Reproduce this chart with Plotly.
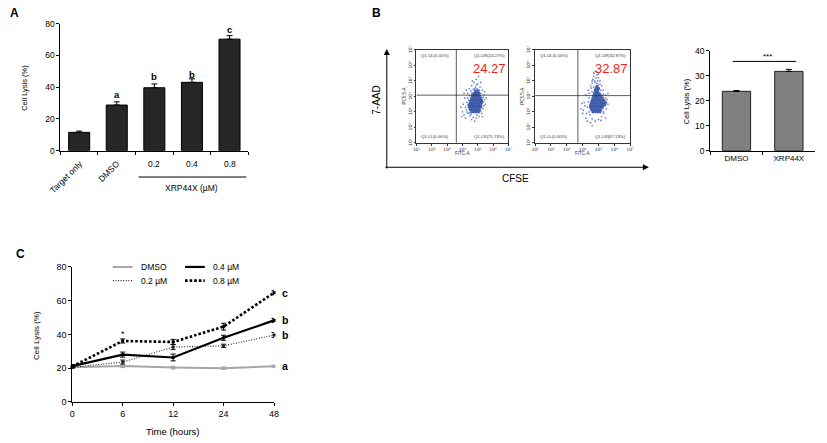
import plotly.graph_objects as go

W, H = 827, 443
FONT = "Liberation Sans, Arial, sans-serif"


def px(x):
    return x / W


def py(y):
    return 1 - y / H


# ---------------- data ----------------
# Panel A
a_cats = ["Target only", "DMSO", "0.2", "0.4", "0.8"]
a_vals = [11.5, 28.7, 39.6, 43.0, 70.2]
a_errs = [0.8, 2.0, 2.4, 2.2, 2.2]
a_letters = ["", "a", "b", "b", "c"]
a_letter_y = [0, 35.5, 46.5, 48.0, 76.5]

# Panel B bar
b_cats = ["DMSO", "XRP44X"]
b_vals = [23.8, 31.8]
b_errs = [0.3, 0.8]

# Panel B flow plots (log10 coordinates)
flow_quads_1 = ["Q1-UL(0.00%)", "Q1-UR(24.27%)", "Q1-LL(0.00%)", "Q1-LR(75.73%)"]
flow_quads_2 = ["Q1-UL(0.00%)", "Q1-UR(32.87%)", "Q1-LL(0.00%)", "Q1-LR(67.13%)"]
flow_ur = ["24.27", "32.87"]
flow_tick_text = ["10\u00b9", "10\u00b2", "10\u00b3", "10\u2074", "10\u2075", "10\u2076",
                  "10\u2077"]
gate_x_log = [3.6, 3.7]
gate_y_log = [4.08, 4.05]

core1_pts = [
    (4.6, 3.0), (4.75, 3.0), (4.9, 3.0), (5.05, 3.0),
    (4.5, 3.15), (4.65, 3.15), (4.8, 3.15), (4.95, 3.15), (5.1, 3.15),
    (4.45, 3.3), (4.6, 3.3), (4.75, 3.3), (4.9, 3.3), (5.05, 3.3), (5.2, 3.3),
    (4.45, 3.45), (4.6, 3.45), (4.75, 3.45), (4.9, 3.45), (5.05, 3.45), (5.2, 3.45),
    (4.5, 3.6), (4.65, 3.6), (4.8, 3.6), (4.95, 3.6), (5.1, 3.6), (5.25, 3.6),
    (4.55, 3.75), (4.7, 3.75), (4.85, 3.75), (5.0, 3.75), (5.15, 3.75), (5.25, 3.75),
    (4.6, 3.9), (4.75, 3.9), (4.9, 3.9), (5.05, 3.9), (5.2, 3.9),
    (4.65, 4.05), (4.8, 4.05), (4.95, 4.05), (5.1, 4.05),
    (4.75, 4.2), (4.9, 4.2), (5.05, 4.2),
    (4.85, 4.35), (5.0, 4.35),
]
sparse1_pts = [
    (4.0, 3.0), (4.1, 2.8), (4.2, 3.3), (4.3, 3.6), (4.15, 3.9), (4.35, 4.2), (4.45, 4.5),
    (4.6, 4.7), (4.75, 4.9), (4.9, 5.1), (5.05, 5.3), (5.0, 4.8), (5.15, 4.6), (5.3, 4.4),
    (5.4, 4.1), (5.45, 3.8), (5.5, 3.5), (5.35, 3.2), (5.25, 2.9), (5.1, 2.7), (4.9, 2.6),
    (4.7, 2.65), (4.5, 2.75), (4.35, 2.9), (4.25, 3.15), (4.35, 3.45), (4.35, 3.9),
    (4.55, 4.35), (4.7, 4.45), (4.85, 4.6), (4.95, 4.5), (5.1, 4.4), (5.2, 4.2),
    (5.35, 3.95), (5.38, 3.65), (4.3, 3.0), (4.45, 2.95), (4.55, 2.85), (4.95, 2.8),
    (5.2, 3.05), (5.4, 3.4), (4.05, 3.5), (3.95, 2.7), (4.2, 2.6), (4.6, 4.2),
    (4.8, 4.5), (5.1, 4.25), (4.9, 4.75), (4.65, 5.0), (5.2, 4.9), (4.4, 3.75),
    (5.45, 4.3), (4.25, 4.4), (4.8, 2.4), (5.55, 3.9), (3.9, 3.3), (4.1, 4.2),
    (4.45, 4.05), (5.3, 2.7), (4.6, 2.5),
]
core2_pts = [
    (4.65, 3.0), (4.8, 3.0), (4.95, 3.0), (5.1, 3.0),
    (4.55, 3.15), (4.7, 3.15), (4.85, 3.15), (5.0, 3.15), (5.15, 3.15),
    (4.5, 3.3), (4.65, 3.3), (4.8, 3.3), (4.95, 3.3), (5.1, 3.3), (5.25, 3.3),
    (4.5, 3.45), (4.65, 3.45), (4.8, 3.45), (4.95, 3.45), (5.1, 3.45), (5.25, 3.45),
    (5.4, 3.45),
    (4.55, 3.6), (4.7, 3.6), (4.85, 3.6), (5.0, 3.6), (5.15, 3.6), (5.3, 3.6), (5.45, 3.6),
    (4.6, 3.75), (4.75, 3.75), (4.9, 3.75), (5.05, 3.75), (5.2, 3.75), (5.35, 3.75),
    (4.65, 3.9), (4.8, 3.9), (4.95, 3.9), (5.1, 3.9), (5.25, 3.9),
    (4.7, 4.05), (4.85, 4.05), (5.0, 4.05), (5.15, 4.05),
    (4.75, 4.2), (4.9, 4.2), (5.05, 4.2),
    (4.8, 4.35), (4.95, 4.35), (4.85, 4.5), (5.0, 4.5), (4.9, 4.65),
]
sparse2_pts = [
    (3.9, 3.2), (4.0, 2.9), (4.1, 3.6), (4.2, 2.6), (4.3, 2.4), (4.4, 3.0), (4.2, 4.1),
    (4.35, 4.4), (4.5, 4.7), (4.6, 5.0), (4.7, 5.3), (4.8, 5.6), (4.9, 5.4), (5.0, 5.2),
    (5.1, 5.0), (5.2, 4.7), (5.3, 4.4), (5.45, 4.1), (5.55, 3.8), (5.6, 3.5), (5.5, 3.2),
    (5.35, 2.9), (5.2, 2.7), (5.0, 2.5), (4.8, 2.4), (4.6, 2.55), (4.45, 2.8), (4.3, 3.3),
    (4.4, 3.9), (4.6, 4.3), (4.7, 4.6), (4.8, 4.9), (4.9, 4.85), (5.0, 4.75), (4.75, 4.45),
    (5.05, 4.55), (4.95, 5.0), (4.65, 5.1), (4.55, 4.55), (5.15, 4.4), (5.3, 4.15),
    (5.45, 3.9), (4.35, 3.65), (4.15, 3.4), (4.05, 3.1), (4.5, 2.3), (4.6, 2.1),
    (5.15, 2.45), (5.45, 2.6), (4.25, 2.9), (3.95, 3.55), (4.7, 5.5), (4.85, 5.2),
    (5.1, 4.8), (4.4, 4.2), (4.6, 4.85), (5.3, 3.0), (5.6, 4.2), (4.75, 5.0), (5.0, 5.45),
]

# Panel C
c_times = ["0", "6", "12", "24", "48"]
c_names = ["DMSO", "0.2 \u00b5M", "0.4 \u00b5M", "0.8 \u00b5M"]
c_dmso = [20.5, 21.3, 20.3, 19.9, 21.1]
c_02 = [20.5, 23.6, 32.5, 33.2, 39.6]
c_04 = [21.2, 28.0, 26.3, 38.0, 48.3]
c_08 = [21.0, 36.1, 35.5, 44.6, 64.7]
c_dmso_err = [0.5, 1.0, 0.8, 0.7, 0.6]
c_02_err = [0.5, 1.2, 1.5, 1.0, 1.5]
c_04_err = [0.8, 1.5, 2.0, 1.5, 1.2]
c_08_err = [0.8, 1.2, 1.5, 2.0, 1.2]
c_letters = ["c", "b", "b", "a"]
c_letter_y = [64.7, 48.3, 39.6, 21.1]

# ---------------- figure ----------------
fig = go.Figure()

# Panel A bars
fig.add_trace(go.Bar(
    x=a_cats, y=a_vals, width=0.56,
    marker=dict(color="#262626", line=dict(color="black", width=1)),
    error_y=dict(type="data", symmetric=False, array=a_errs, arrayminus=[0] * len(a_errs),
                 color="black", thickness=1, width=3),
    xaxis="x", yaxis="y", showlegend=False))

# Panel B flow plots
flows = [
    (core1_pts, sparse1_pts, "x2", "y2"),
    (core2_pts, sparse2_pts, "x3", "y3"),
]
for i, (cp, sp, xa, ya) in enumerate(flows):
    fig.add_trace(go.Scatter(
        x=[10 ** p[0] for p in sp], y=[10 ** p[1] for p in sp], mode="markers",
        marker=dict(color="#4a6cc8", size=1.7, opacity=0.85),
        xaxis=xa, yaxis=ya, showlegend=False))
    fig.add_trace(go.Scatter(
        x=[10 ** p[0] for p in cp], y=[10 ** p[1] for p in cp], mode="markers",
        marker=dict(color="#22429e", size=3.2, opacity=0.8),
        xaxis=xa, yaxis=ya, showlegend=False))
    # quadrant gates
    fig.add_trace(go.Scatter(
        x=[10 ** gate_x_log[i]] * 2, y=[10, 1e7], mode="lines",
        line=dict(color="#333333", width=0.8), xaxis=xa, yaxis=ya, showlegend=False))
    fig.add_trace(go.Scatter(
        x=[10, 1e7], y=[10 ** gate_y_log[i]] * 2, mode="lines",
        line=dict(color="#333333", width=0.8), xaxis=xa, yaxis=ya, showlegend=False))

# Panel B bar chart
fig.add_trace(go.Bar(
    x=b_cats, y=b_vals, width=0.54,
    marker=dict(color="#808080", line=dict(color="#222222", width=1)),
    error_y=dict(type="data", symmetric=False, array=b_errs, arrayminus=[0, 0],
                 color="black", thickness=1, width=3),
    xaxis="x4", yaxis="y4", showlegend=False))

# Panel C lines
c_styles = [
    (c_dmso, c_dmso_err, "#a6a6a6", 2.0, "solid"),
    (c_02, c_02_err, "#222222", 1.1, "1px,1.6px"),
    (c_04, c_04_err, "#000000", 2.2, "solid"),
    (c_08, c_08_err, "#000000", 2.6, "2.6px,2px"),
]
for name, (vals, errs, col, wd, dash) in zip(c_names, c_styles):
    fig.add_trace(go.Scatter(
        x=c_times, y=vals, name=name, mode="lines+markers",
        line=dict(color=col, width=wd, dash=dash),
        marker=dict(color=col, size=3, symbol="square"),
        error_y=dict(type="data", array=errs, color=col, thickness=1, width=2.5),
        xaxis="x5", yaxis="y5", showlegend=False, cliponaxis=False))

# ---------------- axes ----------------
tickfont = dict(family=FONT, size=8.5, color="black")
tickfont_c = dict(family=FONT, size=9, color="black")
base_ax = dict(showline=True, linecolor="black", linewidth=1, ticks="outside",
               ticklen=3, tickcolor="black", tickwidth=1, showgrid=False,
               zeroline=False, tickfont=tickfont)

layout_axes = dict(
    xaxis=dict(base_ax, domain=[px(57), px(247)], anchor="y", type="category",
               tickson="boundaries", showticklabels=False, ticklen=3,
               range=[-0.5, 4.5]),
    yaxis=dict(base_ax, domain=[py(149), py(19)], anchor="x", range=[0, 80],
               tickvals=[0, 20, 40, 60, 80]),
    xaxis4=dict(base_ax, domain=[px(714), px(820)], anchor="y4", type="category",
                tickson="boundaries", range=[-0.5, 1.5],
                tickfont=dict(family=FONT, size=8, color="black")),
    yaxis4=dict(base_ax, domain=[py(149), py(47)], anchor="x4", range=[0, 40],
                tickvals=[0, 10, 20, 30, 40]),
    xaxis5=dict(base_ax, domain=[px(69), px(273)], anchor="y5", type="category",
                range=[0, 4], tickfont=tickfont_c),
    yaxis5=dict(base_ax, domain=[py(406), py(268)], anchor="x5", range=[0, 80],
                tickvals=[0, 20, 40, 60, 80], tickfont=tickfont_c),
)
flow_ax = dict(type="log", range=[1, 7], showline=True, mirror=True, linecolor="#333333",
               linewidth=0.8, ticks="outside", ticklen=2, tickcolor="#333333",
               tickwidth=0.6, showgrid=False, zeroline=False,
               tickvals=[10 ** k for k in range(1, 8)], ticktext=flow_tick_text,
               tickfont=dict(family="DejaVu Sans, " + FONT, size=4.5, color="#333333"))
layout_axes["xaxis2"] = dict(flow_ax, domain=[px(417), px(510)], anchor="y2")
layout_axes["yaxis2"] = dict(flow_ax, domain=[py(141), py(46)], anchor="x2", tickangle=-90)
layout_axes["xaxis3"] = dict(flow_ax, domain=[px(537), px(633)], anchor="y3")
layout_axes["yaxis3"] = dict(flow_ax, domain=[py(141), py(46)], anchor="x3", tickangle=-90)

# ---------------- annotations ----------------
ann = []


def text(x, y, s, size=8, angle=0, bold=False, color="black", xanchor="center",
         yanchor="middle", **kw):
    d = dict(x=x, y=y, text=("<b>%s</b>" % s) if bold else s, showarrow=False,
             textangle=angle, xanchor=xanchor, yanchor=yanchor,
             font=dict(family=FONT, size=size, color=color))
    d.setdefault("xref", "paper")
    d.setdefault("yref", "paper")
    d.update(kw)
    ann.append(d)


# Panel labels
text(px(11), py(8), "A", size=12, bold=True)
text(px(377), py(8), "B", size=12, bold=True)
text(px(17), py(255), "C", size=12, bold=True)

# Panel A
text(px(20), py(85), "Cell Lysis (%)", size=7.5, angle=-90)
for i, lab in enumerate(a_cats):
    if i < 2:
        text(i, py(154), lab, size=8.5, angle=-45, xanchor="right", yanchor="top",
             xref="x", xshift=8)
    else:
        text(i, py(163), lab, size=8.5, xref="x")
for i, (let, ly) in enumerate(zip(a_letters, a_letter_y)):
    if let:
        text(i, ly, let, size=9.5, bold=True, xref="x", yref="y")
text(px(190), py(187), "XRP44X (\u00b5M)", size=8.5)

# Panel B
text(px(377), py(97), "7-AAD", size=10, angle=-90)
text(px(517), py(177), "CFSE", size=10)
text(px(690), py(98), "Cell Lysis (%)", size=7.5, angle=-90)
text(0.6, 37.8, "***", size=8, xref="x4", yref="y4")
for quads, ur, xa, ya in [(flow_quads_1, flow_ur[0], "x2", "y2"),
                         (flow_quads_2, flow_ur[1], "x3", "y3")]:
    xr, yr = xa + " domain", ya + " domain"
    text(0.03, 0.985, quads[0], size=4.3, color="#333333", xanchor="left", yanchor="top",
         xref=xr, yref=yr)
    text(0.98, 0.985, quads[1], size=4.3, color="#333333", xanchor="right", yanchor="top",
         xref=xr, yref=yr)
    text(0.03, 0.015, quads[2], size=4.3, color="#333333", xanchor="left",
         yanchor="bottom", xref=xr, yref=yr)
    text(0.98, 0.015, quads[3], size=4.3, color="#333333", xanchor="right",
         yanchor="bottom", xref=xr, yref=yr)
    text(1.0, 0.8, ur, size=13, color="#ee1c1c", xanchor="right", xref=xr, yref=yr)
    text(0.5, -0.115, "FITC-A", size=4.5, color="#333333", xref=xr, yref=yr)
    text(-0.135, 0.5, "PC5.5-A", size=4.5, color="#333333", angle=-90, xref=xr, yref=yr)

# big arrows
ann.append(dict(x=px(387), y=py(45), xref="paper", yref="paper", ax=0, ay=121,
                axref="pixel", ayref="pixel", text="", showarrow=True, arrowhead=2,
                arrowsize=1.2, arrowwidth=1, arrowcolor="black"))
ann.append(dict(x=px(652), y=py(166), xref="paper", yref="paper", ax=-265, ay=0,
                axref="pixel", ayref="pixel", text="", showarrow=True, arrowhead=2,
                arrowsize=1.2, arrowwidth=1, arrowcolor="black"))

# Panel C
text(px(33), py(338), "Cell Lysis (%)", size=8, angle=-90)
text(px(171), py(436), "Time (hours)", size=9.5)
for let, ly in zip(c_letters, c_letter_y):
    text(len(c_times) - 1, ly, let, size=10.5, bold=True, xref="x5", yref="y5",
         xanchor="left", xshift=6)
text(1, 40.5, "*", size=9, xref="x5", yref="y5")

# legend (manual, two columns)
leg_rows = [(268, c_names[0], c_styles[0], c_names[2], c_styles[2]),
            (282, c_names[1], c_styles[1], c_names[3], c_styles[3])]
shapes = []
for yy, n1, s1, n2, s2 in leg_rows:
    for x0, nm, st in [(110, n1, s1), (183, n2, s2)]:
        shapes.append(dict(type="line", xref="paper", yref="paper", x0=px(x0),
                           x1=px(x0 + 20), y0=py(yy), y1=py(yy),
                           line=dict(color=st[2], width=st[3], dash=st[4])))
        text(px(x0 + 26), py(yy), nm, size=8.5, xanchor="left")

# Panel A bracket line under concentrations
shapes.append(dict(type="line", xref="paper", yref="paper", x0=px(136), x1=px(245),
                   y0=py(176), y1=py(176), line=dict(color="black", width=1)))
# Panel B significance line
shapes.append(dict(type="line", xref="x4", yref="y4", x0=-0.07, x1=1.14, y0=35.8,
                   y1=35.8, line=dict(color="black", width=1)))

fig.update_layout(
    width=W, height=H, margin=dict(l=0, r=0, t=0, b=0),
    paper_bgcolor="white", plot_bgcolor="white",
    font=dict(family=FONT, size=8, color="black"),
    annotations=ann, shapes=shapes, bargap=0.4, **layout_axes)

fig.write_html("out.html", config={"displayModeBar": False},
               post_script="document.body.style.margin='0px';")
